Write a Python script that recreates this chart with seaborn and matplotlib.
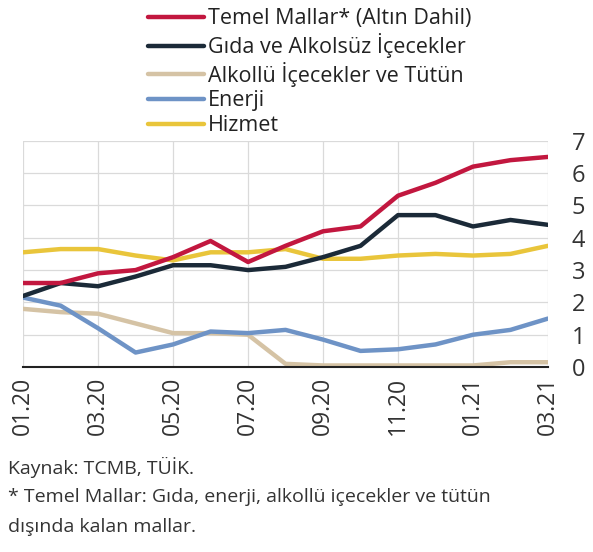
import pandas as pd
import matplotlib.pyplot as plt
import seaborn as sns

# === Data ===
months = ["01.20", "02.20", "03.20", "04.20", "05.20", "06.20", "07.20", "08.20",
          "09.20", "10.20", "11.20", "12.20", "01.21", "02.21", "03.21"]
temel = [2.6, 2.6, 2.9, 3.0, 3.4, 3.9, 3.25, 3.75, 4.2, 4.35, 5.3, 5.7, 6.2, 6.4, 6.5]
gida = [2.2, 2.6, 2.5, 2.8, 3.15, 3.15, 3.0, 3.1, 3.4, 3.75, 4.7, 4.7, 4.35, 4.55, 4.4]
alkollu = [1.8, 1.7, 1.65, 1.35, 1.05, 1.05, 1.0, 0.1, 0.05, 0.05, 0.05, 0.05, 0.05, 0.15, 0.15]
enerji = [2.15, 1.9, 1.2, 0.45, 0.7, 1.1, 1.05, 1.15, 0.85, 0.5, 0.55, 0.7, 1.0, 1.15, 1.5]
hizmet = [3.55, 3.65, 3.65, 3.45, 3.3, 3.55, 3.55, 3.65, 3.35, 3.35, 3.45, 3.5, 3.45, 3.5, 3.75]

series_names = ["Temel Mallar* (Altın Dahil)", "Gıda ve Alkolsüz İçecekler",
                "Alkollü İçecekler ve Tütün", "Enerji", "Hizmet"]
colors = ["#C2173F", "#1B2A38", "#D5C3A5", "#6E93C6", "#E9C53B"]
xticks_shown = ["01.20", "03.20", "05.20", "07.20", "09.20", "11.20", "01.21", "03.21"]

# long-form table for seaborn
frames = []
for name, vals in zip(series_names, [temel, gida, alkollu, enerji, hizmet]):
    frames.append(pd.DataFrame({"idx": range(len(months)), "value": vals, "seri": name}))
df = pd.concat(frames, ignore_index=True)

# === Plot ===
sns.set_theme(style="white")
plt.rcParams['font.family'] = ['Open Sans', 'DejaVu Sans']

fig = plt.figure(figsize=(5.93, 5.52), dpi=100)
ax = fig.add_axes([0.039, 0.335, 0.885, 0.41])

# draw order: energy/alcohol below, red on top
draw_order = ["Alkollü İçecekler ve Tütün", "Enerji", "Hizmet",
              "Gıda ve Alkolsüz İçecekler", "Temel Mallar* (Altın Dahil)"]
pal = dict(zip(series_names, colors))
for name in draw_order:
    sns.lineplot(data=df[df["seri"] == name], x="idx", y="value", color=pal[name],
                 linewidth=3.2, ax=ax, legend=False)

ax.set_xlim(0, 14)
ax.set_ylim(0, 7)
ax.set_yticks(range(0, 8))
ax.set_xticks([months.index(m) for m in xticks_shown])
ax.set_xticklabels(xticks_shown, rotation=90, fontsize=16.5, color="#333333")
ax.yaxis.tick_right()
ax.tick_params(axis="y", labelsize=17, colors="#333333", length=0, pad=17)
ax.tick_params(axis="x", length=0, pad=7)
ax.set_xlabel("")
ax.set_ylabel("")
ax.grid(True, color="#DADADA", linewidth=0.9)
for side in ["top", "right", "left"]:
    ax.spines[side].set_visible(False)
ax.spines["bottom"].set_color("#222222")
ax.spines["bottom"].set_linewidth(1.5)

# legend at top
handles = [plt.Line2D([], [], color=c, linewidth=3.2) for c in colors]
fig.legend(handles, series_names, loc="upper left", bbox_to_anchor=(0.225, 1.012),
           frameon=False, fontsize=15.5, handlelength=2.6, handletextpad=0.15,
           labelspacing=0.17, borderpad=0.2, labelcolor="#222222")

# footnotes
fig.text(0.013, 0.153, "Kaynak: TCMB, TÜİK.", fontsize=14, color="#333333", va="center")
fig.text(0.013, 0.099, "* Temel Mallar: Gıda, enerji, alkollü içecekler ve tütün",
         fontsize=14, color="#333333", va="center")
fig.text(0.013, 0.045, "dışında kalan mallar.", fontsize=14, color="#333333", va="center")

fig.savefig("out.png", dpi=100)
plt.close()
